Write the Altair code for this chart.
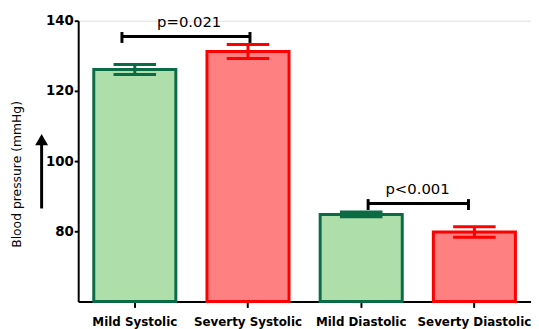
import altair as alt
import pandas as pd

categories = ["Mild Systolic", "Severty Systolic", "Mild Diastolic", "Severty Diastolic"]
groups = ["Mild", "Severty", "Mild", "Severty"]
means = [126.1, 131.2, 84.8, 79.8]
errors = [1.4, 2.0, 0.7, 1.5]

bracket_start = ["Mild Systolic", "Mild Diastolic"]
bracket_end = ["Severty Systolic", "Severty Diastolic"]
bracket_y = [135.5, 87.9]
p_labels = ["p=0.021", "p<0.001"]

arrow_from = 86.5
arrow_to = 105.5
arrow_tip = 106.1

group_domain = ["Mild", "Severty"]
fill_colors = ["#aedfaa", "#ff8080"]
stroke_colors = ["#0b6b45", "#ff0000"]

df = pd.DataFrame({
    "cat": categories,
    "group": groups,
    "mean": means,
    "lo": [m - e for m, e in zip(means, errors)],
    "hi": [m + e for m, e in zip(means, errors)],
})

x_enc = alt.X(
    "cat:N",
    sort=categories,
    scale=alt.Scale(domain=categories, paddingInner=0.275, paddingOuter=0.1375),
    axis=alt.Axis(
        title=None, labelAngle=0, labelFont="DejaVu Sans", labelFontWeight="bold",
        labelFontSize=12, labelColor="black", tickColor="black", tickWidth=2,
        tickSize=6, domainColor="black", domainWidth=2, labelPadding=9,
    ),
)
y_scale = alt.Scale(domain=[60, 140], zero=False, nice=False)
y_axis = alt.Axis(
    title="Blood pressure (mmHg)", values=[80, 100, 120, 140], grid=False,
    labelFont="DejaVu Sans", labelFontWeight="bold", labelFontSize=13.5,
    labelColor="black", tickColor="black", tickWidth=2, tickSize=4,
    labelPadding=1, domainColor="black", domainWidth=2,
    titleFont="DejaVu Sans", titleFontWeight="normal", titleFontSize=12.5,
    titleColor="black", titleX=-62, titleY=155, titleBaseline="middle",
)

fill_scale = alt.Scale(domain=group_domain, range=fill_colors)
stroke_scale = alt.Scale(domain=group_domain, range=stroke_colors)

base = alt.Chart(df)

bars = base.mark_bar(strokeWidth=3).encode(
    x=x_enc,
    y=alt.Y("mean:Q", scale=y_scale, axis=y_axis),
    y2=alt.Y2(datum=60),
    fill=alt.Fill("group:N", scale=fill_scale, legend=None),
    stroke=alt.Stroke("group:N", scale=stroke_scale, legend=None),
)

err_rule = base.mark_rule(strokeWidth=3).encode(
    x=alt.X("cat:N", sort=categories),
    y="lo:Q",
    y2="hi:Q",
    stroke=alt.Stroke("group:N", scale=stroke_scale, legend=None),
)

caps = base.transform_fold(["lo", "hi"], as_=["k", "v"]).mark_tick(
    size=43, thickness=3, orient="horizontal", opacity=1
).encode(
    x=alt.X("cat:N", sort=categories),
    y="v:Q",
    color=alt.Color("group:N", scale=stroke_scale, legend=None),
)

bdf = pd.DataFrame({"start": bracket_start, "end": bracket_end, "y": bracket_y, "label": p_labels})

layers = [bars, err_rule, caps]
offsets = [(-13, 2, 55), (7, -6, 57)]
for i, (o1, o2, ot) in enumerate(offsets):
    b = alt.Chart(bdf.iloc[[i]])
    layers.append(b.mark_rule(color="black", strokeWidth=3, xOffset=o1, x2Offset=o2).encode(
        x=alt.X("start:N", sort=categories), x2="end:N", y="y:Q"))
    layers.append(b.mark_tick(color="black", thickness=3, size=11, orient="vertical",
                              xOffset=o1, yOffset=1, opacity=1).encode(
        x=alt.X("start:N", sort=categories), y="y:Q"))
    layers.append(b.mark_tick(color="black", thickness=3, size=11, orient="vertical",
                              xOffset=o2, yOffset=1, opacity=1).encode(
        x=alt.X("end:N", sort=categories), y="y:Q"))
    layers.append(b.mark_text(font="DejaVu Sans", fontSize=15, color="black", dy=-15,
                              baseline="middle", xOffset=ot).encode(
        x=alt.X("start:N", sort=categories), y="y:Q", text="label:N"))

adf = pd.DataFrame({"a": [arrow_from], "b": [arrow_to], "t": [arrow_tip]})
arrow_line = alt.Chart(adf).mark_rule(color="black", strokeWidth=3).encode(
    x=alt.value(-37), y="a:Q", y2="b:Q")
arrow_head = alt.Chart(adf).mark_point(shape="triangle-up", filled=True, size=169,
                                       color="black", opacity=1).encode(
    x=alt.value(-37), y="t:Q")
layers += [arrow_line, arrow_head]

chart = alt.layer(*layers).properties(
    width=458, height=284,
    autosize=alt.AutoSizeParams(type="none"),
    padding={"left": 71, "top": 11, "right": 0, "bottom": 26},
).configure_view(stroke=None).configure(background="white")

chart.save("out.html", embed_options={"renderer": "svg", "actions": False})
